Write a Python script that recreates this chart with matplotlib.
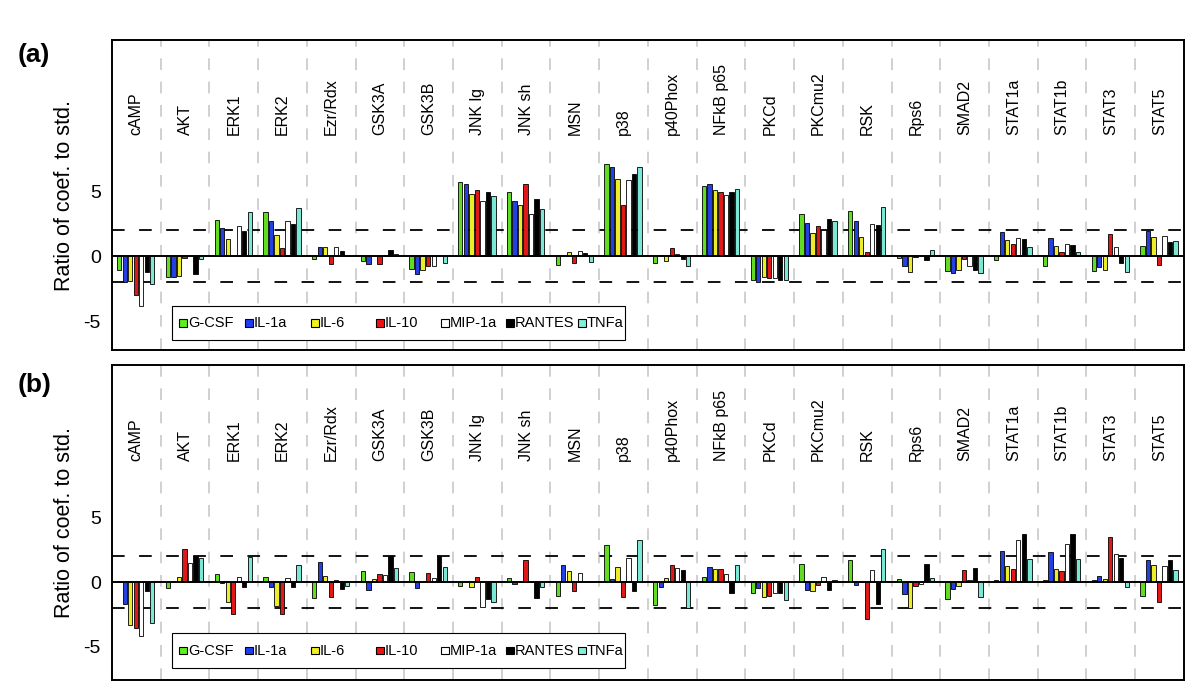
import numpy as np
import matplotlib.pyplot as plt
from matplotlib.patches import Rectangle

plt.rcParams['font.family'] = ['Liberation Sans', 'DejaVu Sans']
plt.rcParams['axes.unicode_minus'] = False

proteins = ["cAMP", "AKT", "ERK1", "ERK2", "Ezr/Rdx", "GSK3A", "GSK3B", "JNK lg",
            "JNK sh", "MSN", "p38", "p40Phox", "NFkB p65", "PKCd", "PKCmu2", "RSK",
            "Rps6", "SMAD2", "STAT1a", "STAT1b", "STAT3", "STAT5"]
cytokines = ["G-CSF", "IL-1a", "IL-6", "IL-10", "MIP-1a", "RANTES", "TNFa"]
colors = ["#62dc22", "#2440e0", "#ecec2a", "#e01818", "#ffffff", "#000000", "#7ae8d4"]
legend_colors = ["#5ef01c", "#1f3cf5", "#f2f21c", "#f51010", "#ffffff", "#000000", "#80f0d8"]

# panel (a)
a_gcsf = [-1.08, -1.6, 2.77, 3.36, -0.25, -0.38, -0.95, 5.69, 4.9, -0.67, 7.08,
          -0.51, 5.38, -1.8, 3.23, 3.49, -0.15, -1.15, -0.26, -0.72, -1.1, 0.77]
a_il1a = [-2.0, -1.6, 2.2, 2.67, 0.7, -0.6, -1.33, 5.51, 4.26, 0.0, 6.85,
          0.1, 5.56, -2.0, 2.56, 2.69, -0.74, -1.26, 1.87, 1.38, -0.8, 1.9]
a_il6 = [-1.87, -1.5, 1.3, 1.6, 0.7, 0.0, -1.08, 4.77, 3.92, 0.36, 5.92,
         -0.36, 5.05, -1.59, 1.77, 1.49, -1.2, -1.08, 1.23, 0.77, -1.05, 1.44]
a_il10 = [-2.97, -0.15, 0.08, 0.6, -0.56, -0.56, -0.74, 5.1, 5.51, -0.51, 3.9,
          0.6, 4.9, -1.67, 2.33, 0.36, -0.08, -0.18, 0.95, 0.36, 1.69, -0.64]
a_mip1a = [-3.8, 0.0, 2.33, 2.67, 0.7, 0.1, -0.74, 4.23, 3.23, 0.41, 5.82,
           0.2, 4.69, -1.67, 2.05, 2.49, 0.0, -0.74, 1.41, 0.97, 0.69, 1.59]
a_rantes = [-1.23, -1.4, 1.97, 2.44, 0.4, 0.5, 0.0, 4.92, 4.36, 0.28, 6.28,
            -0.18, 4.95, -1.85, 2.85, 2.36, -0.3, -1.05, 1.33, 0.87, -0.51, 1.08]
a_tnfa = [-2.15, -0.25, 3.4, 3.74, 0.05, 0.15, -0.51, 4.59, 3.62, -0.41, 6.87,
          -0.72, 5.13, -1.8, 2.67, 3.79, 0.51, -1.26, 0.69, 0.33, -1.2, 1.18]

# panel (b)
b_gcsf = [0.08, -0.44, 0.64, 0.36, -1.2, 0.85, 0.8, -0.33, 0.33, -1.08, 2.85,
          -1.74, 0.38, -0.87, 1.36, 1.69, 0.26, -1.28, 0.15, 0.13, 0.13, -1.08]
b_il1a = [-1.69, 0.05, -0.05, -0.38, 1.54, -0.59, -0.49, 0.0, -0.13, 1.28, 0.23,
          -0.36, 1.15, -0.49, -0.62, -0.26, -0.9, -0.51, 2.38, 2.33, 0.49, 1.67]
b_il6 = [-3.3, 0.38, -1.56, -1.87, 0.49, 0.23, 0.1, -0.41, 0.0, 0.87, 1.15,
         0.33, 1.0, -1.18, -0.67, 0.0, -2.0, -0.28, 1.23, 0.97, 0.26, 1.31]
b_il10 = [-3.56, 2.56, -2.44, -2.44, -1.13, 0.64, 0.69, 0.38, 1.69, -0.69, -1.13,
          1.28, 1.0, -1.05, -0.26, -2.85, -0.33, 0.95, 1.03, 0.87, 3.46, -1.56]
b_mip1a = [-4.18, 1.46, 0.41, 0.31, 0.13, 0.56, 0.33, -1.95, 0.0, 0.69, 1.82,
           1.08, 0.64, -0.85, 0.36, 0.9, -0.15, 0.13, 3.23, 2.9, 2.18, 1.21]
b_rantes = [-0.72, 2.03, -0.38, -0.36, -0.56, 2.03, 2.03, -1.28, -1.26, -0.03, -0.72,
            0.95, -0.85, -0.87, -0.64, -1.67, 1.36, 1.1, 3.69, 3.69, 1.82, 1.72]
b_tnfa = [-3.15, 1.82, 1.9, 1.28, -0.28, 1.08, 1.15, -1.51, -0.41, 0.0, 3.26,
          -2.0, 1.31, -1.36, 0.18, 2.56, 0.31, -1.15, 1.77, 1.74, -0.41, 0.9]

# legend square positions in axes fraction (left edges)
legend_x = [0.0625, 0.124, 0.1856, 0.2463, 0.3069, 0.3675, 0.4347]


def draw_legend(ax, y0, h):
    tr = ax.transAxes
    ax.add_patch(Rectangle((0.056, y0), 0.4226, h, transform=tr, facecolor='white',
                           edgecolor='black', lw=0.8, zorder=6, clip_on=False))
    sq_w = 8 / 1072
    sq_h = 7.5 / ax.bbox.height * (ax.figure.dpi / 100)
    yc = y0 + h / 2
    for lx, c, name in zip(legend_x, legend_colors, cytokines):
        ax.add_patch(Rectangle((lx, yc - sq_h / 2), sq_w, sq_h, transform=tr,
                               facecolor=c, edgecolor='black', lw=0.8, zorder=7))
        ax.text(lx + sq_w + 0.0008, yc, name, transform=tr, fontsize=10.5,
                ha='left', va='center', zorder=7)


def draw_panel(ax, series, ylim, leg_y):
    n = len(proteins)
    x = np.arange(n)
    for k, vals in enumerate(series):
        ax.bar(x + 0.15 + k * 0.113, vals, width=0.088, align='center',
               color=colors[k], edgecolor='black', linewidth=0.6, zorder=3)

    # group separators, threshold lines and zero line
    for i in range(1, n):
        ax.axvline(i, color='#c8c8c8', lw=1.2, ls=(0, (7, 7)), zorder=1)
    for yy in (2, -2):
        ax.axhline(yy, color='black', lw=1.3, ls=(0, (7, 8)), zorder=2)
    ax.axhline(0, color='black', lw=1.4, zorder=4)

    for i, name in enumerate(proteins):
        ax.text(i + 0.5, 9.3, name, rotation=90, ha='center', va='bottom',
                fontsize=11.5, zorder=5)

    ax.set_xlim(0, n)
    ax.set_ylim(*ylim)
    ax.set_xticks([])
    ax.set_yticks([-5, 0, 5])
    ax.tick_params(axis='y', labelsize=14, length=0, pad=8)
    ax.set_ylabel("Ratio of coef. to std.", fontsize=15.5, labelpad=6)
    for s in ax.spines.values():
        s.set_linewidth(1.4)

    draw_legend(ax, *leg_y)


fig = plt.figure(figsize=(12, 6.91), dpi=100)
ax_a = fig.add_axes([0.0933, 0.4935, 0.8933, 0.4486])
ax_b = fig.add_axes([0.0933, 0.0159, 0.8933, 0.456])

draw_panel(ax_a, [a_gcsf, a_il1a, a_il6, a_il10, a_mip1a, a_rantes, a_tnfa],
           (-7.2, 16.6), (0.032, 0.110))
draw_panel(ax_b, [b_gcsf, b_il1a, b_il6, b_il10, b_mip1a, b_rantes, b_tnfa],
           (-7.54, 16.7), (0.038, 0.111))

fig.text(0.015, 0.92, "(a)", fontsize=19, fontweight='bold', va='center')
fig.text(0.015, 0.443, "(b)", fontsize=19, fontweight='bold', va='center')

fig.savefig("out.png", dpi=100)
